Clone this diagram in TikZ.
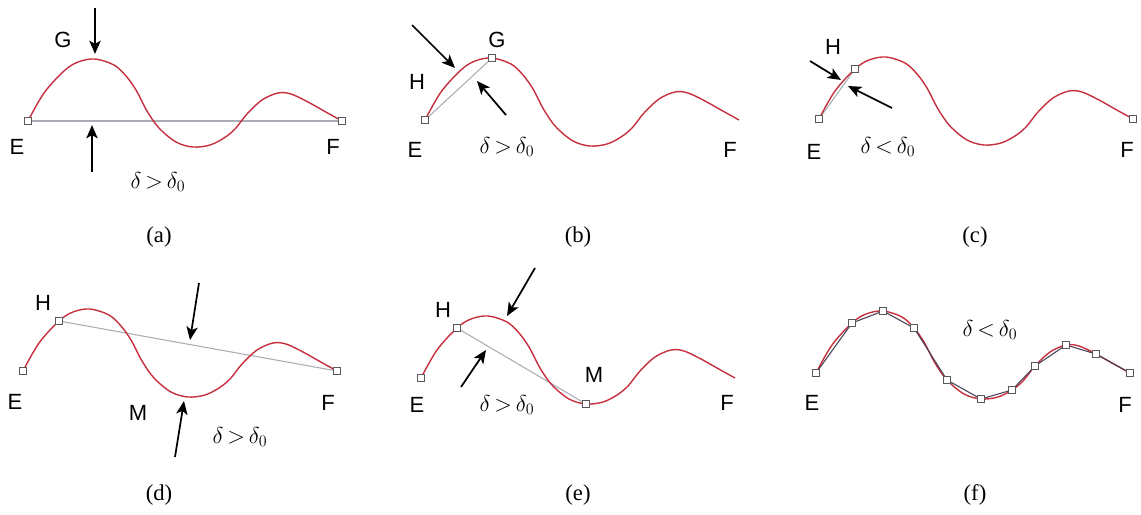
\documentclass[tikz,border=0pt]{standalone}
\usepackage{fontspec}
\setmainfont{Liberation Sans}
\newfontfamily\capfont{Liberation Serif}
\usetikzlibrary{arrows.meta}
\definecolor{wavered}{HTML}{C62F3E}
\definecolor{chordgray}{HTML}{A8AEB4}
\definecolor{polydark}{HTML}{4A4258}

\tikzset{
  wave/.style={draw=wavered, line width=1.05pt},
  chord/.style={draw=chordgray, line width=0.8pt},
  polyline/.style={draw=polydark, line width=0.8pt},
  sqmark/.style={draw=black!65, fill=white, line width=0.5pt, minimum size=5pt, inner sep=0pt},
  pointer/.style={-{Stealth[length=10pt,width=8.5pt,inset=2.5pt]}, line width=1.3pt},
  lbl/.style={font=\fontsize{16.5}{18}\selectfont},
  tol/.style={font=\fontsize{17}{19}\selectfont},
  subcap/.style={font=\capfont\fontsize{17}{19}\selectfont},
}

% split points of the test curve, relative to its left end E
\newcommand{\wavepoints}[3]{%
  \begin{scope}[shift={(#2,#3)}]
    \foreach \n/\px/\py in {E/0/0, p1/36/-50, p2/67/-62, p3/98/-45, p4/131/7,
        p5/165/26, p6/196/17, p7/219/-7, p8/250/-28, p9/280/-19, F/314/0}
      \coordinate (#1\n) at (\px,\py);
  \end{scope}
}
% the test curve itself
\newcommand{\wavecurve}[2]{%
  \begin{scope}[shift={(#1,#2)}]
    \draw[wave] plot[smooth, tension=0.55] coordinates {(0,0) (16,-28) (36,-50)
      (50,-59) (67,-62) (86,-56) (98,-45) (108,-31) (119,-10) (131,7) (148,21)
      (165,26) (182,24) (196,17) (207,8) (219,-7) (234,-21) (250,-28) (263,-27)
      (280,-19) (296,-10) (314,0)};
  \end{scope}
}

\begin{document}
\begin{tikzpicture}[x=0.75pt, y=-0.75pt]
  \useasboundingbox (0,0) rectangle (1141,514);

  \foreach \p/\dx/\dy in {a/28/121, b/425/120, c/819/119,
      d/23/371, e/421/378, f/816/373}
    \wavepoints{\p}{\dx}{\dy};

  % chords
  \draw[chord] (aE) -- (aF);
  \draw[chord] (bE) -- (bp2);
  \draw[chord] (cE) -- (cp1);
  \draw[chord] (dp1) -- (dF);
  \draw[chord] (ep1) -- (ep5);

  % curves
  \foreach \dx/\dy in {28/121, 425/120, 819/119, 23/371, 421/378, 816/373}
    \wavecurve{\dx}{\dy};

  % final polyline
  \draw[polyline] (fE) -- (fp1) -- (fp2) -- (fp3) -- (fp4) -- (fp5) -- (fp6)
    -- (fp7) -- (fp8) -- (fp9) -- (fF);

  % markers
  \foreach \m in {aE, aF, bE, bp2, cE, cp1, cF, dE, dp1, dF, eE, ep1, ep5,
      fE, fp1, fp2, fp3, fp4, fp5, fp6, fp7, fp8, fp9, fF}
    \node[sqmark] (\m-sq) at (\m) {};

  % pointers
  \foreach \n/\tx/\ty/\hx/\hy in {a1/95/8/95/54, a2/92/172/92/125,
      b1/412/25/455/68, b2/506/115/477/81,
      c1/810/61/841/80, c2/892/108/848/86,
      d1/199/283/190/340, d2/175/457/184/401,
      e1/535/268/507/316, e2/461/387/486/350}{
    \coordinate (\n t) at (\tx,\ty);
    \coordinate (\n h) at (\hx,\hy);
    \draw[pointer] (\n t) -- (\n h);
  }

  % point labels
  \foreach \n/\x/\y/\t in {aG/63/40/G, aEl/17/147/E, aFl/333/147/F,
      bG/497/40/G, bH/417/82/H, bEl/415/150/E, bFl/730/150/F,
      cH/833/47/H, cEl/814/152/E, cFl/1127/150/F,
      dH/43/303/H, dEl/15/402/E, dFl/328/403/F, dM/138/413/M,
      eH/443/310/H, eEl/417/405/E, eFl/727/403/F, eM/594/375/M,
      fEl/812/403/E, fFl/1125/405/F}
    \node[lbl] (\n) at (\x,\y) {\t};

  % tolerance labels
  \foreach \n/\x/\y/\t in {atol/158/182/>, btol/507/147/>, ctol/888/147/<,
      dtol/240/437/>, etol/507/405/>, ftol/990/330/<}
    \node[tol] (\n) at (\x,\y) {$\delta\,{\t}\,\delta_0$};

  % captions
  \foreach \n/\x/\y in {a/159/237, b/578/237, c/975/237,
      d/159/495, e/578/495, f/975/495}
    \node[subcap] (cap\n) at (\x,\y) {(\n)};
\end{tikzpicture}
\end{document}
